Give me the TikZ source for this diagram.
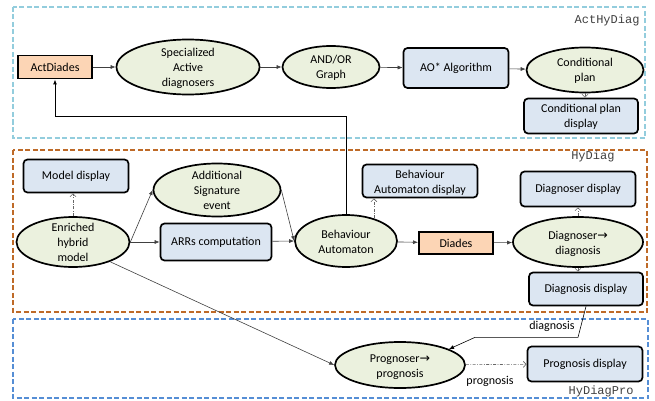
\documentclass[tikz,border=0pt]{standalone}
\usepackage{fontspec}
\setmainfont{Carlito}
\newfontfamily\codefont{Liberation Mono}
\newfontfamily\arrowfont{DejaVu Sans}
\usetikzlibrary{arrows.meta,shapes.geometric}
\definecolor{ellfill}{HTML}{EBF1DE}
\definecolor{boxfill}{HTML}{DCE6F2}
\definecolor{orfill}{HTML}{FCD5B5}
\definecolor{actframe}{HTML}{93CDDD}
\definecolor{hyframe}{HTML}{BE6A28}
\definecolor{proframe}{HTML}{558ED5}
\newcommand{\lns}[1]{\smash{\raisebox{-4.5pt}{\begin{tabular}{@{}c@{}}#1\end{tabular}}}}
\newcommand{\goesto}{{\arrowfont\fontsize{12.5}{15}\selectfont →}}

\begin{document}
\begin{tikzpicture}[x=1pt,y=-1pt,font=\fontsize{12}{15}\selectfont,
  ell/.style = {ellipse,draw,line width=1.7pt,fill=ellfill,inner sep=0pt},
  rbox/.style = {rectangle,rounded corners=4pt,draw,line width=1.7pt,fill=boxfill,inner sep=0pt},
  obox/.style = {rectangle,draw,line width=1.9pt,fill=orfill,inner sep=0pt},
  arr/.style = {draw=black!75,line width=0.6pt,-{Latex[length=5pt,width=4pt]}},
  disp/.style = {draw=black!60,line width=0.6pt,dash pattern=on 3pt off 1.5pt on 0.8pt off 1.5pt,-{Straight Barb[length=3pt,width=6pt]}},
  zone/.style = {line width=1.4pt,dash pattern=on 5pt off 2.5pt},
  zonelabel/.style = {font=\codefont\fontsize{12}{14}\selectfont,text=black!75,anchor=east}]
\useasboundingbox (0,0) rectangle (655,401);

\draw[zone,actframe] (13,7) rectangle (645,138);
\draw[zone,hyframe] (13,150) rectangle (647,312);
\draw[zone,proframe] (13,319) rectangle (648,398);
\node[zonelabel] (acttag) at (643,20) {ActHyDiag};
\node[zonelabel] (hytag) at (618,156) {HyDiag};
\node[zonelabel] (protag) at (637,391) {HyDiagPro};

\node[obox,minimum width=74pt,minimum height=23pt] (act) at (55,67) {ActDiades};
\node[ell,minimum width=143pt,minimum height=55pt] (spec) at (188,67) {\lns{Specialized\\Active\\diagnosers}};
\node[ell,minimum width=97pt,minimum height=42pt] (aog) at (331,67) {\lns{AND/OR\\Graph}};
\node[rbox,minimum width=105pt,minimum height=40pt] (aostar) at (456,68) {AO* Algorithm};
\node[ell,minimum width=117pt,minimum height=45pt] (cond) at (585,70) {\lns{Conditional\\plan}};
\node[rbox,minimum width=114pt,minimum height=35pt] (cpd) at (581,116) {\lns{Conditional plan\\display}};

\node[rbox,minimum width=105pt,minimum height=33pt] (md) at (76,176) {Model display};
\node[ell,minimum width=127pt,minimum height=53pt] (add) at (217,190) {\lns{Additional\\Signature\\event}};
\node[ell,minimum width=113pt,minimum height=50pt] (enr) at (73,242) {\lns{Enriched\\hybrid\\model}};
\node[rbox,minimum width=111pt,minimum height=37pt] (arrs) at (216,242) {ARRs computation};
\node[ell,minimum width=102pt,minimum height=52pt] (ba) at (346,241) {\lns{Behaviour\\Automaton}};
\node[rbox,minimum width=115pt,minimum height=33pt] (bad) at (420,181) {\lns{Behaviour\\Automaton display}};
\node[obox,minimum width=74pt,minimum height=22pt] (diades) at (456,243) {Diades};
\node[ell,minimum width=130pt,minimum height=50pt] (dgn) at (578,242) {\lns{Diagnoser\goesto\\diagnosis}};
\node[rbox,minimum width=115pt,minimum height=35pt] (dgd) at (578,189) {Diagnoser display};
\node[rbox,minimum width=114pt,minimum height=33pt] (dsd) at (586,289) {Diagnosis display};

\node[ell,minimum width=130pt,minimum height=46pt] (prog) at (400,365) {\lns{Prognoser\goesto\\prognosis}};
\node[rbox,minimum width=115pt,minimum height=35pt] (pd) at (585,364) {Prognosis display};
\node (dlab) at (552,326) {diagnosis};
\node (plab) at (490,381) {prognosis};

\draw[arr] (act) -- (spec);
\draw[arr] (spec) -- (aog);
\draw[arr] (aog) -- (aostar);
\draw[arr] (aostar) -- (cond);
\draw[disp] (cond.south) -- (cond.south |- cpd.north);
\draw[disp] (enr.north) -- (enr.north |- md.south);
\draw[arr] (enr.east) -- (add.west);
\draw[arr] (enr) -- (arrs);
\draw[arr] (add.east) -- (ba.west);
\draw[arr] (arrs) -- (ba.west);
\draw[disp] (ba.39) -- (ba.39 |- bad.south);
\draw[arr] (ba) -- (diades);
\draw[arr] (diades) -- (dgn);
\draw[disp] (dgn.north) -- (dgn.north |- dgd.south);
\draw[disp] (dgn.south) -- (dgn.south |- dsd.north);
\draw[line width=0.9pt,-{Latex[length=5pt,width=4pt]}] (ba.north) -- ++(0,-98) -| (act.south);
\draw[arr] (enr.-28) -- (prog.west);
\draw[arr,draw=black] (dsd.south) -- ++(-8,31) -- ++(-103,0) -- (prog.18);
\draw[disp] (prog) -- (pd);
\end{tikzpicture}
\end{document}
